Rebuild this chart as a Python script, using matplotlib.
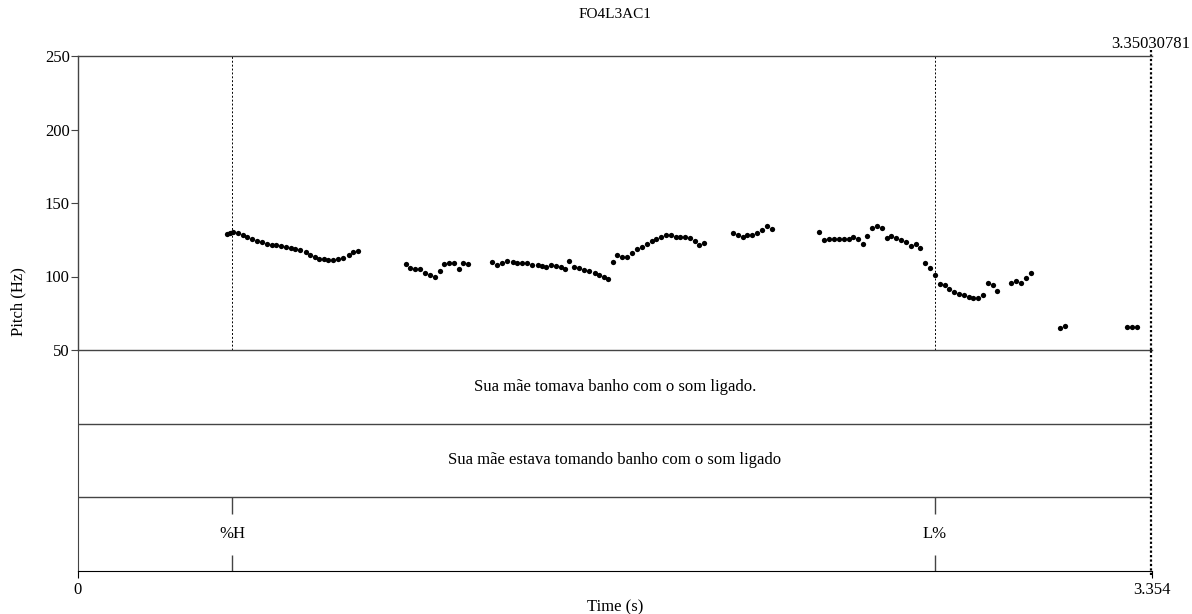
import matplotlib.pyplot as plt

plt.rcParams['font.family'] = ['Liberation Serif', 'DejaVu Serif']
plt.rcParams['font.size'] = 12

title = "FO4L3AC1"
t_end = 3.354
end_mark = 3.35030781

# pitch track (s, Hz)
pitch_times = [
    0.466, 0.475, 0.485, 0.499, 0.514, 0.529, 0.544, 0.558, 0.574, 0.589,
    0.605, 0.617, 0.633, 0.649, 0.664, 0.678, 0.693, 0.711, 0.725, 0.740,
    0.754, 0.768, 0.782, 0.797, 0.813, 0.829, 0.846, 0.860, 0.875,
    1.024, 1.037, 1.052, 1.068, 1.084, 1.099, 1.115, 1.130, 1.144, 1.160,
    1.174, 1.190, 1.203, 1.219,
    1.294, 1.310, 1.325, 1.341, 1.357, 1.372, 1.388, 1.403, 1.419, 1.435,
    1.448, 1.463, 1.477, 1.492, 1.507, 1.522, 1.534, 1.550, 1.566, 1.581,
    1.597, 1.613, 1.627, 1.643, 1.656,
    1.671, 1.684, 1.700, 1.715, 1.731, 1.746, 1.760, 1.776, 1.792, 1.806,
    1.821, 1.836, 1.851, 1.867, 1.881, 1.896, 1.911, 1.927, 1.940, 1.956,
    2.046, 2.060, 2.076, 2.090, 2.106, 2.121, 2.136, 2.151, 2.166,
    2.315, 2.330, 2.345, 2.361, 2.377, 2.392, 2.407, 2.421, 2.435, 2.451,
    2.465, 2.480, 2.495, 2.511, 2.525, 2.540, 2.556, 2.571, 2.586, 2.601,
    2.616, 2.630, 2.646, 2.661, 2.677,
    2.692, 2.707, 2.721, 2.736, 2.751, 2.766, 2.782, 2.796, 2.812, 2.826,
    2.841, 2.857, 2.871,
    2.915, 2.929, 2.945, 2.962, 2.976,
    3.067, 3.082,
    3.275, 3.291, 3.306,
]
pitch_hz = [
    128.9, 129.8, 130.3, 129.4, 128.0, 127.1, 125.7, 124.4, 123.5, 122.1,
    121.2, 121.4, 120.7, 120.3, 119.4, 118.9, 118.0, 116.7, 114.8, 113.0,
    112.1, 111.7, 111.2, 111.2, 111.7, 112.6, 114.4, 116.7, 117.1,
    108.3, 106.0, 105.3, 104.9, 102.6, 100.8, 99.9, 103.9, 108.5, 109.4,
    109.0, 105.3, 109.0, 108.5,
    109.9, 107.6, 109.4, 110.3, 109.9, 109.4, 109.0, 109.0, 108.0, 107.6,
    107.1, 106.7, 107.6, 107.1, 106.7, 104.9, 110.7, 106.7, 105.8, 104.4,
    103.5, 102.6, 101.2, 99.9, 98.1,
    110.1, 114.8, 113.0, 113.0, 115.8, 118.5, 120.3, 122.1, 123.9, 125.7,
    127.1, 128.0, 128.0, 127.1, 126.6, 127.1, 126.2, 124.4, 121.2, 123.0,
    129.8, 128.0, 127.1, 128.0, 128.4, 129.4, 131.6, 134.4, 132.1,
    130.5, 124.8, 125.3, 125.5, 125.5, 125.3, 125.5, 126.9, 125.5, 122.3,
    127.3, 132.8, 134.1, 132.8, 126.0, 127.8, 126.4, 124.6, 123.7, 120.5,
    121.9, 119.6, 109.2, 105.6, 101.0,
    94.9, 94.0, 91.7, 89.5, 88.1, 87.2, 86.3, 85.4, 85.4, 87.2,
    95.4, 94.0, 89.9,
    95.8, 96.7, 95.4, 99.0, 102.2,
    65.2, 66.1,
    65.9, 65.9, 65.9,
]
pitch_ticks = [50, 100, 150, 200, 250]

tier1_text = "Sua mãe tomava banho com o som ligado."
tier2_text = "Sua mãe estava tomando banho com o som ligado"
point_times = [0.481, 2.676]
point_labels = ["%H", "L%"]

W, H = 1192, 614
fig = plt.figure(figsize=(W / 100, H / 100), dpi=100)
x0, x1 = 78 / W, 1152 / W
ax = fig.add_axes([x0, 1 - 350 / H, x1 - x0, (350 - 56) / H])
tax = fig.add_axes([x0, 1 - 571 / H, x1 - x0, (571 - 350) / H], sharex=ax)
tax.patch.set_visible(False)

grey = '#444444'

# pitch panel
ax.plot(pitch_times, pitch_hz, 'o', color='black', markersize=3.8, markeredgewidth=0)
ax.set_xlim(0, t_end)
ax.set_ylim(50, 250)
ax.set_yticks(pitch_ticks)
ax.tick_params(axis='y', direction='out', length=5, width=0.8, color=grey, pad=1)
ax.tick_params(axis='x', bottom=False, labelbottom=False)
for s in ['top', 'left', 'bottom']:
    ax.spines[s].set_color(grey)
    ax.spines[s].set_linewidth(1)
ax.spines['right'].set_visible(False)
for t in point_times:
    ax.axvline(t, color='black', lw=0.7, ls=(0, (2, 2)))
ax.axvline(end_mark, ymin=0, ymax=1.02, color='black', lw=1.6, ls=(0, (1, 1)), clip_on=False)
ax.text(end_mark, 253, f"{end_mark:.8f}", ha='center', va='bottom')

# text grid tiers
tax.set_ylim(0, 3)
tax.set_yticks([])
tax.set_xticks([0, t_end])
tax.set_xticklabels(["0", "3.354"])
tax.tick_params(axis='x', direction='out', length=5, width=0.8, pad=3)
tax.spines['top'].set_visible(False)
tax.spines['right'].set_visible(False)
tax.spines['left'].set_color(grey)
tax.spines['bottom'].set_color('black')
tax.axhline(2, color=grey, lw=1)
tax.axhline(1, color=grey, lw=1)
tax.text(t_end / 2, 2.5, tier1_text, ha='center', va='center')
tax.text(t_end / 2, 1.5, tier2_text, ha='center', va='center')
for t, lab in zip(point_times, point_labels):
    tax.vlines(t, 0.78, 1, color=grey, lw=1)
    tax.vlines(t, 0, 0.22, color=grey, lw=1)
    tax.text(t, 0.5, lab, ha='center', va='center')
tax.axvline(end_mark, ymin=-0.02, ymax=1, color='black', lw=1.6, ls=(0, (1, 1)), clip_on=False)
tax.set_xlabel("Time (s)", labelpad=1)

fig.text(615 / W, 1 - 14 / H, title, ha='center', va='center', fontsize=11)
fig.text(18 / W, 1 - 302 / H, "Pitch (Hz)", rotation=90, ha='center', va='center')

fig.savefig("out.png", dpi=100)
